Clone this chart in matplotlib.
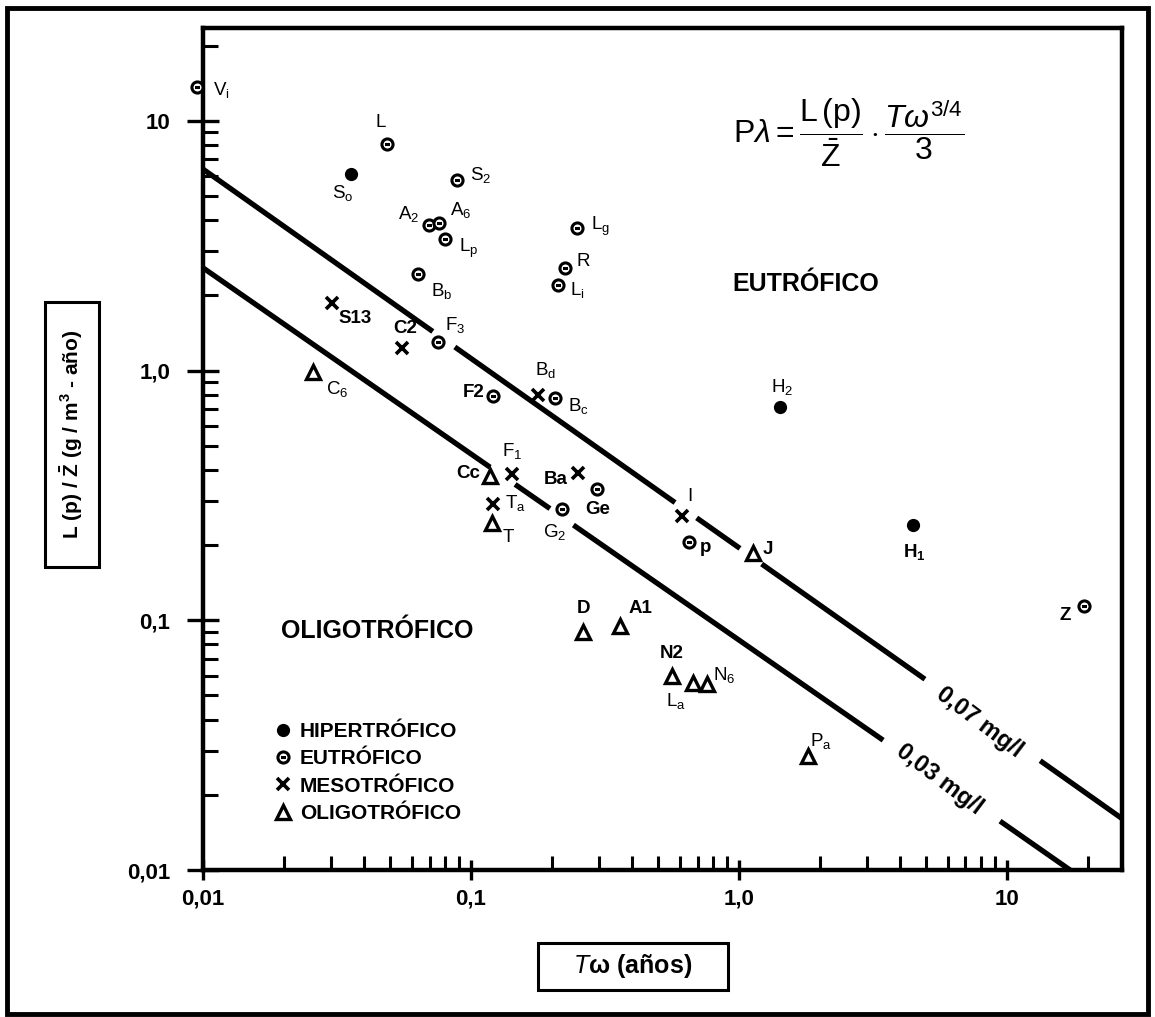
import numpy as np
import matplotlib
matplotlib.use('Agg')
import matplotlib.pyplot as plt
from matplotlib.lines import Line2D
from matplotlib.path import Path
from matplotlib.patches import Rectangle
from matplotlib.ticker import FixedLocator, NullFormatter

plt.rcParams['font.family'] = ['Liberation Sans', 'DejaVu Sans']
plt.rcParams['mathtext.fontset'] = 'custom'
plt.rcParams['mathtext.rm'] = 'Liberation Sans'
plt.rcParams['mathtext.it'] = 'Liberation Sans:italic'
plt.rcParams['mathtext.bf'] = 'Liberation Sans:bold'

# Datos (Tw en años, L(p)/Z en g/m3-año)
hip_nombres = ['So', 'H2', 'H1']
hip_x = [0.0357, 1.42, 4.47]
hip_y = [6.14, 0.716, 0.24]

eut_nombres = ['Vi', 'L', 'S2', 'A2', 'A6', 'Lp', 'Lg', 'R', 'Li', 'Bb', 'F3',
               'F2', 'Bc', 'G2', 'Ge', 'p', 'Z']
eut_x = [0.0095, 0.0487, 0.0889, 0.0698, 0.0762, 0.0802, 0.249, 0.224, 0.212,
         0.0634, 0.0755, 0.121, 0.206, 0.218, 0.294, 0.653, 19.3]
eut_y = [13.6, 8.09, 5.77, 3.84, 3.90, 3.36, 3.71, 2.57, 2.20, 2.44, 1.30,
         0.789, 0.778, 0.278, 0.336, 0.205, 0.114]

mes_nombres = ['S13', 'C2', 'Bd', 'F1', 'Ta', 'Ba', 'I']
mes_x = [0.0302, 0.0551, 0.178, 0.142, 0.121, 0.251, 0.611]
mes_y = [1.87, 1.23, 0.80, 0.384, 0.291, 0.390, 0.261]

oli_nombres = ['C6', 'Cc', 'T', 'D', 'A1', 'N2', 'La', 'N6', 'J', 'Pa']
oli_x = [0.0258, 0.118, 0.120, 0.262, 0.36, 0.561, 0.675, 0.758, 1.13, 1.81]
oli_y = [0.99, 0.378, 0.246, 0.0898, 0.0949, 0.0599, 0.0563, 0.0555, 0.1865, 0.0287]

# rectas de carga critica (tramos, con cortes para rotulos)
linea_07_x = [[0.01, 0.072], [0.087, 0.577], [0.695, 1.008], [1.215, 4.94], [13.3, 26.8]]
linea_07_y = [[6.40, 1.433], [1.242, 0.296], [0.257, 0.194], [0.168, 0.0581], [0.0274, 0.0161]]
linea_03_x = [[0.01, 0.1178], [0.146, 0.197], [0.241, 3.45], [9.42, 17.2]]
linea_03_y = [[2.576, 0.410], [0.350, 0.280], [0.2406, 0.0331], [0.0157, 0.0100]]

# rotulos: texto, desplazamiento en px (dx, dy hacia abajo), negrita
rotulos = {
    'So': (r'S$_\mathregular{o}$', -8, 19, False),
    'H2': (r'H$_\mathregular{2}$', 2, -20, False),
    'H1': (r'H$_\mathregular{1}$', 1, 27, True),
    'Vi': (r'V$_\mathregular{i}$', 24, 3, False),
    'L': ('L', -7, -21, False),
    'S2': (r'S$_\mathregular{2}$', 23, -5, False),
    'A2': (r'A$_\mathregular{2}$', -21, -11, False),
    'A6': (r'A$_\mathregular{6}$', 21, -13, False),
    'Lp': (r'L$_\mathregular{p}$', 23, 9, False),
    'Lg': (r'L$_\mathregular{g}$', 23, -2, False),
    'R': ('R', 18, -7, False),
    'Li': (r'L$_\mathregular{i}$', 19, 5, False),
    'Bb': (r'B$_\mathregular{b}$', 24, 17, False),
    'F3': (r'F$_\mathregular{3}$', 17, -17, False),
    'F2': ('F2', -20, -4, True),
    'Bc': (r'B$_\mathregular{c}$', 23, 8, False),
    'G2': (r'G$_\mathregular{2}$', -7, 23, False),
    'Ge': ('Ge', 1, 21, True),
    'p': ('p', 16, 5, True),
    'Z': ('Z', -18, 9, True),
    'S13': ('S13', 23, 16, True),
    'C2': ('C2', 4, -20, True),
    'Bd': (r'B$_\mathregular{d}$', 7, -25, False),
    'F1': (r'F$_\mathregular{1}$', 0, -23, False),
    'Ta': (r'T$_\mathregular{a}$', 22, -1, False),
    'Ba': ('Ba', -22, 7, True),
    'I': ('I', 8, -20, False),
    'C6': (r'C$_\mathregular{6}$', 24, 17, False),
    'Cc': ('Cc', -22, -3, True),
    'T': ('T', 16, 15, False),
    'D': ('D', 0, -23, True),
    'A1': ('A1', 20, -17, True),
    'N2': ('N2', 0, -22, True),
    'La': (r'L$_\mathregular{a}$', -17, 18, False),
    'N6': (r'N$_\mathregular{6}$', 17, -9, False),
    'J': ('J', 15, -3, True),
    'Pa': (r'P$_\mathregular{a}$', 13, -15, False),
}

# marcador eutrófico: circulo con barra
eu_marker = Path.make_compound_path(Path.unit_circle(),
                                    Path([[-0.45, 0.0], [0.45, 0.0]], [Path.MOVETO, Path.LINETO]))

estilos = {
    'hip': dict(marker='o', ms=8, mfc='k', mec='k', mew=1.5),
    'eut': dict(marker=eu_marker, ms=8, mfc='white', mec='k', mew=2.2),
    'mes': dict(marker='x', ms=8, mfc='k', mec='k', mew=2.6),
    'oli': dict(marker='^', ms=10, mfc='white', mec='k', mew=2.4),
}

fig = plt.figure(figsize=(11.55, 10.17), dpi=100)
ax = fig.add_axes([0.1758, 0.1445, 0.7954, 0.8279])
ax.set_xscale('log')
ax.set_yscale('log')
ax.set_xlim(0.01, 26.8)
ax.set_ylim(0.01, 23.5)

for xs, ys in zip(linea_07_x, linea_07_y):
    ax.plot(xs, ys, color='k', lw=3.8, solid_capstyle='butt')
for xs, ys in zip(linea_03_x, linea_03_y):
    ax.plot(xs, ys, color='k', lw=3.8, solid_capstyle='butt')

grupos = [('hip', hip_nombres, hip_x, hip_y), ('eut', eut_nombres, eut_x, eut_y),
          ('mes', mes_nombres, mes_x, mes_y), ('oli', oli_nombres, oli_x, oli_y)]
for clave, nombres, xs, ys in grupos:
    ax.plot(xs, ys, ls='none', clip_on=False, zorder=5, **estilos[clave])
    for n, x, y in zip(nombres, xs, ys):
        txt, dx, dy, neg = rotulos[n]
        ax.annotate(txt, (x, y), xytext=(dx * 0.72, -dy * 0.72), textcoords='offset points',
                    ha='center', va='center', fontsize=13.5,
                    fontweight='bold' if neg else 'normal', annotation_clip=False)

ax.text(7.9, 0.039, '0,07 mg/l', rotation=-37, ha='center', va='center',
        fontsize=17, fontweight='bold')
ax.text(5.6, 0.0231, '0,03 mg/l', rotation=-37, ha='center', va='center',
        fontsize=17, fontweight='bold')

ax.text(1.78, 2.21, 'EUTRÓFICO', ha='center', va='center', fontsize=18, fontweight='bold')
ax.text(0.0445, 0.0906, 'OLIGOTRÓFICO', ha='center', va='center', fontsize=18, fontweight='bold')

ax.text(0.703, 0.875, r'$\mathrm{P}\lambda = \dfrac{\mathrm{L\,(p)}}{\bar{\mathrm{Z}}}\cdot\dfrac{\mathit{T}\omega^{3/4}}{3}$',
        transform=ax.transAxes, ha='center', va='center', fontsize=23)

# leyenda
h_ley = [Line2D([], [], ls='none', **estilos['hip']),
         Line2D([], [], ls='none', **estilos['eut']),
         Line2D([], [], ls='none', **estilos['mes']),
         Line2D([], [], ls='none', **estilos['oli'])]
ax.legend(h_ley, ['HIPERTRÓFICO', 'EUTRÓFICO', 'MESOTRÓFICO', 'OLIGOTRÓFICO'],
          loc='upper left', bbox_to_anchor=(0.078, 0.176), frameon=False,
          prop={'size': 15, 'weight': 'bold'}, handlelength=0.8, handletextpad=0.4,
          labelspacing=0.4, borderpad=0, borderaxespad=0)

# ejes
for s in ax.spines.values():
    s.set_linewidth(3.2)
ax.xaxis.set_major_locator(FixedLocator([0.01, 0.1, 1, 10]))
ax.yaxis.set_major_locator(FixedLocator([0.01, 0.1, 1, 10]))
ax.set_xticklabels(['0,01', '0,1', '1,0', '10'])
ax.set_yticklabels(['0,01', '0,1', '1,0', '10'])
menores = [m * 10.0 ** e for e in range(-2, 2) for m in range(2, 10)]
ax.xaxis.set_minor_locator(FixedLocator(menores))
ax.yaxis.set_minor_locator(FixedLocator(menores))
ax.xaxis.set_minor_formatter(NullFormatter())
ax.yaxis.set_minor_formatter(NullFormatter())
ax.tick_params(axis='x', which='major', direction='inout', length=15, width=2.4,
               pad=6, labelsize=16)
ax.tick_params(axis='y', which='major', direction='inout', length=23, width=2.4,
               pad=12, labelsize=16)
ax.tick_params(axis='x', which='minor', direction='in', length=10, width=2.2)
ax.tick_params(axis='y', which='minor', direction='in', length=11, width=2.2)
for lab in ax.get_xticklabels() + ax.get_yticklabels():
    lab.set_fontweight('bold')

# rotulos de ejes con recuadro
fig.text(0.0623, 0.573, r'L (p) / $\mathbf{\bar{Z}}$ (g / m$^\mathbf{3}$ - año)', rotation=90,
         ha='center', va='center', fontsize=15, fontweight='bold')
fig.patches.append(Rectangle((45 / 1155, 1 - 567 / 1017), 54 / 1155, 265 / 1017,
                             transform=fig.transFigure, fill=False, ec='k', lw=2.2))
fig.text(0.548, 0.050, r'$\mathit{T}$ω (años)', ha='center', va='center', fontsize=18,
         fontweight='bold')
fig.patches.append(Rectangle((538 / 1155, 1 - 990 / 1017), 190 / 1155, 47 / 1017,
                             transform=fig.transFigure, fill=False, ec='k', lw=2.2))

# marco exterior
fig.patches.append(Rectangle((0.006, 0.003), 0.988, 0.989, transform=fig.transFigure,
                             fill=False, ec='k', lw=3.5))

fig.savefig('out.png', dpi=100)
